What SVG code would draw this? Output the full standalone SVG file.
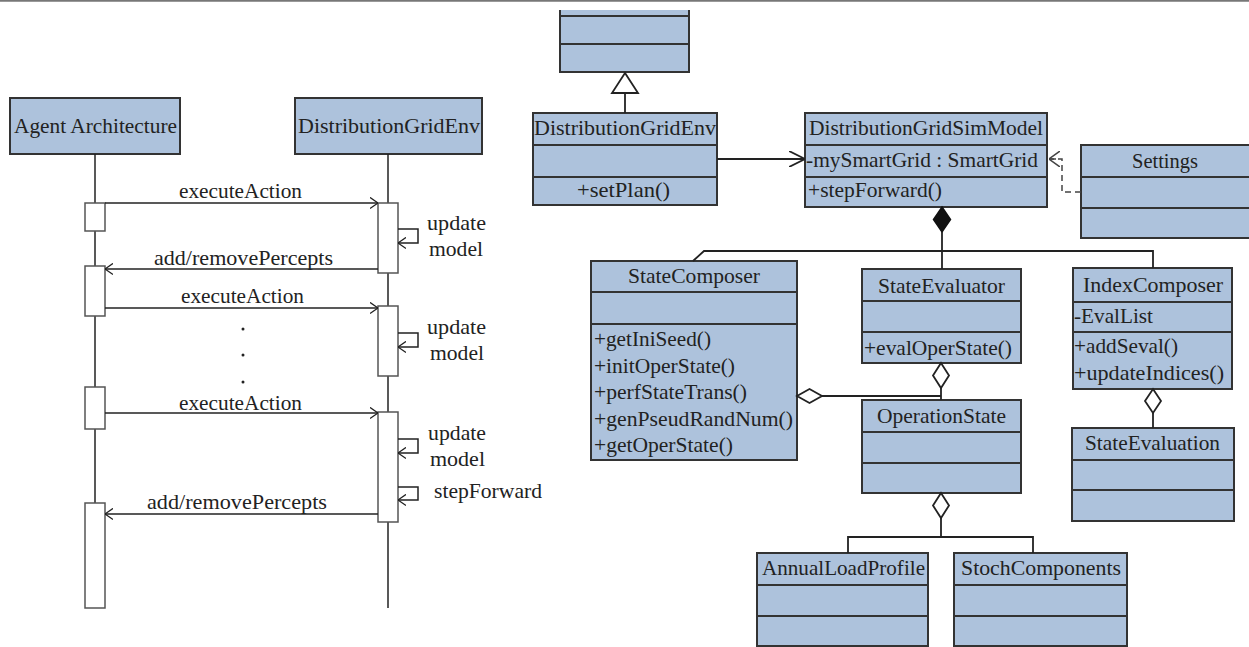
<svg xmlns="http://www.w3.org/2000/svg" width="1249" height="647" viewBox="0 0 1249 647">
<style>
text{font-family:"Liberation Serif","Times New Roman",serif;font-size:21px;fill:#222}
.cls{fill:#adc2dc;stroke:#333;stroke-width:2}
.div{stroke:#333;stroke-width:2}
.act{fill:#fff;stroke:#555;stroke-width:1.5}
.ln{fill:none;stroke:#222;stroke-width:1.5}
.cn{fill:none;stroke:#222;stroke-width:1.8}
.hd{fill:#fff;stroke:#222;stroke-width:1.8}
.fd{fill:#111;stroke:#111;stroke-width:1.5}
.dash{fill:none;stroke:#444;stroke-width:1.5;stroke-dasharray:6 4}
</style>
<defs>
<marker id="arr" viewBox="0 0 10 14" refX="10" refY="7" markerWidth="8" markerHeight="13" orient="auto" markerUnits="userSpaceOnUse">
<path d="M0,0 L10,7 L0,14" fill="none" stroke="#222" stroke-width="1.6"/>
</marker>
<marker id="arrBig" viewBox="0 0 16 16" refX="16" refY="8" markerWidth="16" markerHeight="16" orient="auto" markerUnits="userSpaceOnUse">
<path d="M0,0 L16,8 L0,16" fill="none" stroke="#222" stroke-width="1.8"/>
</marker>
<marker id="arrDep" viewBox="0 0 11 16" refX="11" refY="8" markerWidth="11" markerHeight="16" orient="auto" markerUnits="userSpaceOnUse">
<path d="M0,0 L11,8 L0,16" fill="none" stroke="#444" stroke-width="1.5"/>
</marker>
</defs>

<line x1="0" y1="0.8" x2="1249" y2="0.8" stroke="#777" stroke-width="2"/>

<!-- Sequence diagram -->
<g id="seq-agent">
<rect class="cls" x="10" y="98" width="170" height="56"/>
<text x="14" y="133" textLength="163" lengthAdjust="spacingAndGlyphs">Agent Architecture</text>
</g>
<g id="seq-env">
<rect class="cls" x="295" y="98" width="187" height="56"/>
<text x="298" y="133" textLength="182" lengthAdjust="spacingAndGlyphs">DistributionGridEnv</text>
</g>
<g id="lifelines">
<line class="ln" x1="95" y1="154" x2="95" y2="608"/>
<line class="ln" x1="388" y1="154" x2="388" y2="608"/>
<rect class="act" x="85" y="203" width="20" height="28"/>
<rect class="act" x="85" y="266" width="20" height="50"/>
<rect class="act" x="85" y="387" width="20" height="42"/>
<rect class="act" x="85" y="503" width="20" height="105"/>
<rect class="act" x="378" y="203" width="20" height="70"/>
<rect class="act" x="378" y="306" width="20" height="70"/>
<rect class="act" x="378" y="412" width="20" height="110"/>
<circle cx="243" cy="329" r="1.5" fill="#222"/>
<circle cx="243" cy="355" r="1.5" fill="#222"/>
<circle cx="243" cy="382" r="1.5" fill="#222"/>
</g>
<g id="messages">
<line class="ln" x1="105" y1="203" x2="378" y2="203" marker-end="url(#arr)"/>
<line class="ln" x1="378" y1="269" x2="105" y2="269" marker-end="url(#arr)"/>
<line class="ln" x1="105" y1="308" x2="378" y2="308" marker-end="url(#arr)"/>
<line class="ln" x1="105" y1="413" x2="378" y2="413" marker-end="url(#arr)"/>
<line class="ln" x1="378" y1="514" x2="105" y2="514" marker-end="url(#arr)"/>
<path class="ln" d="M398,229 H418 V243 H398" marker-end="url(#arr)"/>
<path class="ln" d="M398,333 H418 V347 H398" marker-end="url(#arr)"/>
<path class="ln" d="M398,439 H418 V453 H398" marker-end="url(#arr)"/>
<path class="ln" d="M398,487 H418 V500 H398" marker-end="url(#arr)"/>
<text x="179" y="198" textLength="123" lengthAdjust="spacingAndGlyphs">executeAction</text>
<text x="154" y="265" textLength="179" lengthAdjust="spacingAndGlyphs">add/removePercepts</text>
<text x="181" y="303" textLength="123" lengthAdjust="spacingAndGlyphs">executeAction</text>
<text x="179" y="410" textLength="123" lengthAdjust="spacingAndGlyphs">executeAction</text>
<text x="147" y="509" textLength="180" lengthAdjust="spacingAndGlyphs">add/removePercepts</text>
<text x="427" y="230" textLength="59" lengthAdjust="spacingAndGlyphs">update</text>
<text x="429" y="256" textLength="54" lengthAdjust="spacingAndGlyphs">model</text>
<text x="427" y="334" textLength="59" lengthAdjust="spacingAndGlyphs">update</text>
<text x="430" y="360" textLength="54" lengthAdjust="spacingAndGlyphs">model</text>
<text x="428" y="440" textLength="58" lengthAdjust="spacingAndGlyphs">update</text>
<text x="430" y="466" textLength="55" lengthAdjust="spacingAndGlyphs">model</text>
<text x="434" y="498" textLength="108" lengthAdjust="spacingAndGlyphs">stepForward</text>
</g>

<!-- Class diagram -->
<g id="cls-top">
<rect x="560" y="10" width="129" height="62" fill="#adc2dc"/>
<path class="div" d="M560,10 V72 H689 V10 M560,16 H689 M560,44 H689" fill="none"/>
</g>
<g id="cls-env">
<rect class="cls" x="533" y="113" width="184" height="92"/>
<line class="div" x1="533" y1="145" x2="717" y2="145"/>
<line class="div" x1="533" y1="177" x2="717" y2="177"/>
<text x="534" y="135" textLength="182" lengthAdjust="spacingAndGlyphs">DistributionGridEnv</text>
<text x="577" y="197" textLength="93" lengthAdjust="spacingAndGlyphs">+setPlan()</text>
</g>
<g id="cls-simmodel">
<rect class="cls" x="805" y="113" width="242" height="94"/>
<line class="div" x1="805" y1="145" x2="1047" y2="145"/>
<line class="div" x1="805" y1="177" x2="1047" y2="177"/>
<text x="809" y="135" textLength="234" lengthAdjust="spacingAndGlyphs">DistributionGridSimModel</text>
<text x="806" y="167" textLength="232" lengthAdjust="spacingAndGlyphs">-mySmartGrid : SmartGrid</text>
<text x="808" y="197" textLength="134" lengthAdjust="spacingAndGlyphs">+stepForward()</text>
</g>
<g id="cls-settings">
<rect class="cls" x="1081" y="145" width="176" height="93"/>
<line class="div" x1="1081" y1="177" x2="1257" y2="177"/>
<line class="div" x1="1081" y1="208" x2="1257" y2="208"/>
<text x="1132" y="168" textLength="66" lengthAdjust="spacingAndGlyphs">Settings</text>
</g>
<g id="cls-statecomposer">
<rect class="cls" x="591" y="261" width="206" height="199"/>
<line class="div" x1="591" y1="292" x2="797" y2="292"/>
<line class="div" x1="591" y1="324" x2="797" y2="324"/>
<text x="628" y="283" textLength="132" lengthAdjust="spacingAndGlyphs">StateComposer</text>
<text x="594" y="346" textLength="117" lengthAdjust="spacingAndGlyphs">+getIniSeed()</text>
<text x="594" y="372.5" textLength="141" lengthAdjust="spacingAndGlyphs">+initOperState()</text>
<text x="594" y="399" textLength="153" lengthAdjust="spacingAndGlyphs">+perfStateTrans()</text>
<text x="594" y="425.5" textLength="199" lengthAdjust="spacingAndGlyphs">+genPseudRandNum()</text>
<text x="594" y="452" textLength="139" lengthAdjust="spacingAndGlyphs">+getOperState()</text>
</g>
<g id="cls-stateevaluator">
<rect class="cls" x="862" y="269" width="159" height="94"/>
<line class="div" x1="862" y1="301" x2="1021" y2="301"/>
<line class="div" x1="862" y1="332" x2="1021" y2="332"/>
<text x="878" y="293" textLength="127" lengthAdjust="spacingAndGlyphs">StateEvaluator</text>
<text x="864" y="355" textLength="148" lengthAdjust="spacingAndGlyphs">+evalOperState()</text>
</g>
<g id="cls-indexcomposer">
<rect class="cls" x="1073" y="268" width="159" height="121"/>
<line class="div" x1="1073" y1="302" x2="1232" y2="302"/>
<line class="div" x1="1073" y1="332" x2="1232" y2="332"/>
<text x="1083" y="292" textLength="140" lengthAdjust="spacingAndGlyphs">IndexComposer</text>
<text x="1074" y="323" textLength="79" lengthAdjust="spacingAndGlyphs">-EvalList</text>
<text x="1074" y="353" textLength="104" lengthAdjust="spacingAndGlyphs">+addSeval()</text>
<text x="1074" y="380" textLength="150" lengthAdjust="spacingAndGlyphs">+updateIndices()</text>
</g>
<g id="cls-operationstate">
<rect class="cls" x="862" y="400" width="159" height="93"/>
<line class="div" x1="862" y1="432" x2="1021" y2="432"/>
<line class="div" x1="862" y1="463" x2="1021" y2="463"/>
<text x="877" y="423" textLength="129" lengthAdjust="spacingAndGlyphs">OperationState</text>
</g>
<g id="cls-stateevaluation">
<rect class="cls" x="1072" y="428" width="162" height="93"/>
<line class="div" x1="1072" y1="460" x2="1234" y2="460"/>
<line class="div" x1="1072" y1="490" x2="1234" y2="490"/>
<text x="1085" y="450" textLength="135" lengthAdjust="spacingAndGlyphs">StateEvaluation</text>
</g>
<g id="cls-annualloadprofile">
<rect class="cls" x="757" y="553" width="171" height="93"/>
<line class="div" x1="757" y1="585" x2="928" y2="585"/>
<line class="div" x1="757" y1="616" x2="928" y2="616"/>
<text x="762" y="575" textLength="163" lengthAdjust="spacingAndGlyphs">AnnualLoadProfile</text>
</g>
<g id="cls-stochcomponents">
<rect class="cls" x="954" y="553" width="173" height="93"/>
<line class="div" x1="954" y1="585" x2="1127" y2="585"/>
<line class="div" x1="954" y1="616" x2="1127" y2="616"/>
<text x="961" y="575" textLength="160" lengthAdjust="spacingAndGlyphs">StochComponents</text>
</g>

<g id="connectors">
<!-- generalization -->
<line class="cn" x1="625" y1="93" x2="625" y2="113"/>
<polygon class="hd" points="625,73 612,93 638,93"/>
<!-- association -->
<line class="cn" x1="717" y1="159" x2="805" y2="159" marker-end="url(#arrBig)"/>
<!-- dependency -->
<path class="dash" d="M1081,192 H1062 V159 H1049"/>
<line x1="1056" y1="159" x2="1049" y2="159" stroke="#444" stroke-width="1.5" marker-end="url(#arrDep)"/>
<!-- composition bus -->
<polygon class="fd" points="942,207 950.5,219.5 942,232 933.5,219.5"/>
<line class="cn" x1="942" y1="232" x2="942" y2="269"/>
<path class="cn" d="M693,261 L704,251 H1153 V268"/>
<!-- StateEvaluator / StateComposer to OperationState -->
<polygon class="hd" points="941,363 949,375.5 941,388 933,375.5"/>
<line class="cn" x1="941" y1="388" x2="941" y2="400"/>
<polygon class="hd" points="797,396 809.5,389 822,396 809.5,403"/>
<line class="cn" x1="822" y1="396" x2="941" y2="396"/>
<!-- OperationState aggregation -->
<polygon class="hd" points="941,493 949,505.5 941,518 933,505.5"/>
<path class="cn" d="M941,518 V537 M848,553 V537 H1033 V553"/>
<!-- IndexComposer aggregation -->
<polygon class="hd" points="1153,389 1161,401 1153,413 1145,401"/>
<line class="cn" x1="1153" y1="413" x2="1153" y2="428"/>
</g>
</svg>
